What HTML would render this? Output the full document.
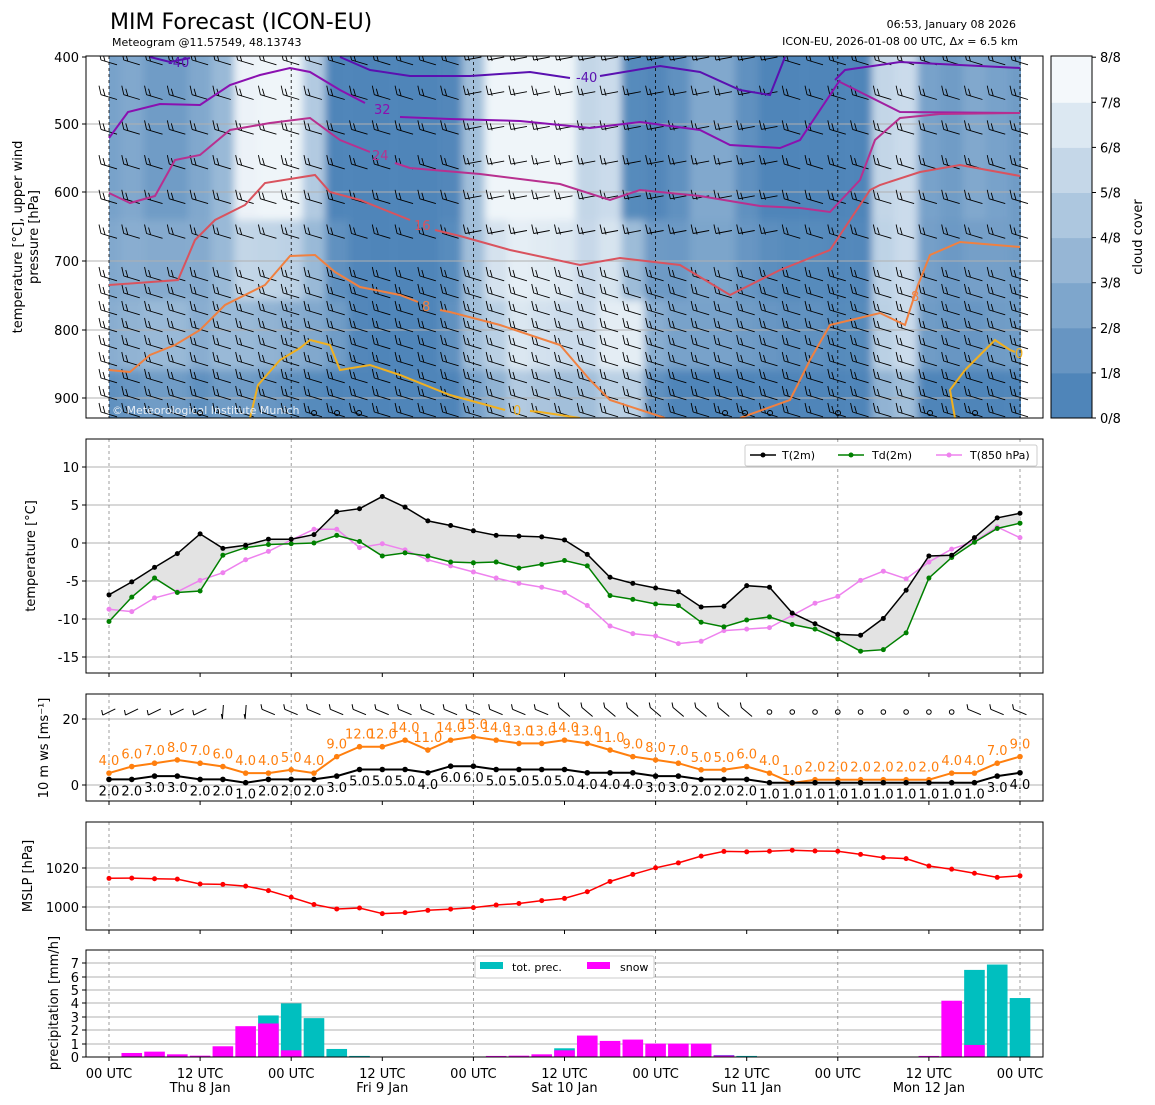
<!DOCTYPE html>
<html><head><meta charset="utf-8">
<style>
body{margin:0;background:#fff;width:1155px;height:1105px;overflow:hidden}
svg{display:block;font-family:"DejaVu Sans","Liberation Sans",sans-serif}
</style></head><body>
<svg id="s" width="1155" height="1105" viewBox="0 0 1155 1105" xmlns="http://www.w3.org/2000/svg">
<defs>
<clipPath id="c1"><rect x="86" y="56" width="957" height="362"/></clipPath>
<filter id="bl" x="-5%" y="-5%" width="110%" height="110%"><feGaussianBlur stdDeviation="4"/></filter>
</defs>
<text x="110" y="29" font-size="22">MIM Forecast (ICON-EU)</text>
<text x="112" y="46" font-size="11">Meteogram @11.57549, 48.13743</text>
<text x="1016" y="28" font-size="11" text-anchor="end">06:53, January 08 2026</text>
<text x="1018" y="45" font-size="11" text-anchor="end">ICON-EU, 2026-01-08 00 UTC, Δ<tspan font-style="italic">x</tspan> = 6.5 km</text>
<g id="g"></g>
</svg>
<script>
const NS="http://www.w3.org/2000/svg";const G=document.getElementById('g');
let H='';
const X=i=>109+i*22.775;
const col=(c)=>{c=Math.max(0,Math.min(1,c));const a=[79,133,185],b=[244,248,251];return `rgb(${a.map((v,k)=>Math.round(v+(b[k]-v)*c)).join(',')})`;};
const up=[.25,.3,.2,.2,.3,.45,.95,.97,.97,.6,0,0,0,0,0,0.02,.5,.97,.97,.97,.97,.7,.75,.05,.02,.1,.3,.3,.1,0,0,0,0,0,.7,.75,.25,.2,.3,.25,.2];
const lo=[.35,.4,.45,.45,.35,.45,.45,.4,.35,.3,.2,.02,0,0,0,.1,.5,.65,.85,.8,.75,.75,.9,.9,.35,.25,.25,.25,.2,.15,.1,.1,.05,.05,.65,.75,.2,.15,.15,.2,.2];
const lo2=lo.map(v=>Math.max(0,v-0.25));
let cl='<g clip-path="url(#c1)"><rect x="86" y="56" width="957" height="362" fill="#fff"/><g filter="url(#bl)">';
for(let i=0;i<41;i++){const x=X(i)-11.4;
 cl+=`<rect x="${x}" y="40" width="23" height="180" fill="${col(up[i])}"/>`;
 cl+=`<rect x="${x}" y="220" width="23" height="80" fill="${col((up[i]+lo[i])/2)}"/>`;
 cl+=`<rect x="${x}" y="300" width="23" height="70" fill="${col(lo[i])}"/>`;
 cl+=`<rect x="${x}" y="370" width="23" height="60" fill="${col(lo2[i])}"/>`;}
cl+='</g><rect x="86" y="56" width="23" height="362" fill="#fff"/><rect x="1021" y="56" width="22" height="362" fill="#fff"/>';
[124,192,261,330,398].forEach(y=>cl+=`<line x1="86" x2="1043" y1="${y}" y2="${y}" stroke="#b0b0b0" stroke-width="1"/>`);
[0,8,16,24,32,40].forEach(i=>cl+=`<line x1="${X(i)}" x2="${X(i)}" y1="56" y2="418" stroke="#000" stroke-width="0.8" stroke-dasharray="3,3"/>`);
let rows=[];for(let y=60;y<260;y+=34.7)rows.push(y);for(let y=276;y<418;y+=17)rows.push(y);
for(let i=0;i<41;i++){for(const y of rows){const x=X(i)-8;
 const ang=(i>=16&&i<=29&&y<260)?-1:0.3;
 const dx=16,dy=6*ang+3;
 cl+=`<path d="M${x} ${y}L${x+dx} ${y+dy}M${x} ${y}L${x-2} ${y-9}M${x+4} ${y+1}L${x+2} ${y-6}" stroke="#000" stroke-width="0.9" fill="none"/>`;}}
const P=(pts,c)=>cl+=`<polyline points="${pts}" fill="none" stroke="${c}" stroke-width="2"/>`;
P("150,57 170,62 190,58",'#5a10b0');
P("340,57 370,70 410,76 470,76 530,72 570,78",'#5a10b0');P("600,76 660,66 700,72 740,90 770,95 785,57",'#5a10b0');
P("835,80 845,70 900,62 1020,68",'#7010b0');
P("109,138 128,112 160,104 200,105 230,85 260,75 290,68 310,72 340,90 365,103",'#8a10b0');
P("400,117 450,119 520,121 590,128 640,122 700,130 730,145 780,148 800,140 840,80",'#8a10b0');
P("840,82 900,112 1020,113",'#a020a0');
P("109,193 130,203 155,196 175,160 200,155 230,130 270,123 310,118 340,140 370,152",'#b8308f');
P("395,163 410,168 480,174 560,184 610,200 640,190 700,196 760,206 800,208 830,212 860,180 875,140 900,118 940,114 1020,113",'#b8308f');
P("109,285 178,280 195,240 215,220 245,205 265,183 315,175 330,192 360,200 410,220",'#d9535e');
P("435,230 460,236 510,250 580,265 620,258 680,265 730,295 780,270 830,250 870,190 880,185 920,172 960,165 1020,176",'#d9535e');
P("109,370 130,372 150,355 175,345 200,330 225,305 265,285 290,256 315,255 335,272 360,287 400,295 418,302",'#f08040');
P("440,310 450,312 500,325 560,345 590,380 610,400 665,418",'#f08040');
P("740,418 790,400 810,360 830,325 880,313 905,325 918,285 930,255 960,242 1020,247",'#f08040');
P("250,418 258,385 280,360 300,348 310,340 330,345 340,370 370,365 400,375 450,395 505,410",'#f0b020');
P("530,411 540,412 580,418",'#f0b020');P("955,418 950,390 965,370 980,355 995,340 1010,350 1015,352",'#f0b020');
cl+=`<text x="168" y="67" font-size="13" fill="#5a10b0">-40</text><text x="576" y="82" font-size="13" fill="#5a10b0">-40</text>
<text x="374" y="114" font-size="13" fill="#8a10b0">32</text><text x="372" y="160" font-size="13" fill="#b8308f">24</text>
<text x="414" y="230" font-size="13" fill="#d9535e">16</text><text x="422" y="311" font-size="13" fill="#f08040">8</text>
<text x="911" y="301" font-size="13" fill="#f08040">8</text><text x="513" y="415" font-size="13" fill="#f0b020">0</text><text x="1015" y="358" font-size="13" fill="#f0b020">0</text>
<text x="112" y="414" font-size="11" fill="#e8eef5">© Meteorological Institute Munich</text>`;
[200,314,337,359,725,745,770,838,930,975].forEach(x=>cl+=`<circle cx="${x}" cy="413" r="2.5" fill="none" stroke="#000"/>`);
cl+='</g><rect x="86" y="56" width="957" height="362" fill="none" stroke="#000"/>';
[[400,57],[500,124],[600,192],[700,261],[800,330],[900,398]].forEach(([v,y])=>cl+=`<line x1="82" x2="86" y1="${y}" y2="${y}" stroke="#000"/><text x="79" y="${y+5}" font-size="13" text-anchor="end">${v}</text>`);
H+=cl;
for(let k=0;k<8;k++){const y=418-(k+1)*45.1;H+=`<rect x="1051" y="${y}" width="41" height="45.6" fill="${col(k/7)}"/>`;}
H+='<rect x="1051" y="56" width="41" height="362" fill="none" stroke="#000"/>';
for(let k=0;k<=8;k++){const y=418-k*45.1;H+=`<line x1="1092" x2="1096" y1="${y}" y2="${y}" stroke="#000"/><text x="1100" y="${y+5}" font-size="13">${k}/8</text>`;}
H+='<text transform="translate(1142,237) rotate(-90)" font-size="13" text-anchor="middle">cloud cover</text>';
H+='<text transform="translate(22,237) rotate(-90)" font-size="13" text-anchor="middle">temperature [°C], upper wind</text><text transform="translate(38,237) rotate(-90)" font-size="13" text-anchor="middle">pressure [hPa]</text>';
function frame(y0,y1,ticks){let s='';
 ticks.forEach(([v,y])=>{s+=`<line x1="86" x2="1043" y1="${y}" y2="${y}" stroke="#b0b0b0"/><line x1="82" x2="86" y1="${y}" y2="${y}" stroke="#000"/><text x="79" y="${y+5}" font-size="13" text-anchor="end">${v}</text>`;});
 [0,8,16,24,32,40].forEach(i=>s+=`<line x1="${X(i)}" x2="${X(i)}" y1="${y0}" y2="${y1}" stroke="#888" stroke-width="0.8" stroke-dasharray="3,3"/>`);
 for(let i=0;i<=40;i+=4)s+=`<line x1="${X(i)}" x2="${X(i)}" y1="${y1}" y2="${y1+4}" stroke="#000"/>`;
 return s;}
function fr2(y0,y1){return `<rect x="86" y="${y0}" width="957" height="${y1-y0}" fill="none" stroke="#000"/>`;}
const line=(vals,f,c,w,r)=>{const p=vals.map((v,i)=>`${X(i).toFixed(1)},${f(v).toFixed(1)}`).join(' ');let s=`<polyline points="${p}" fill="none" stroke="${c}" stroke-width="${w}"/>`;vals.forEach((v,i)=>s+=`<circle cx="${X(i)}" cy="${f(v)}" r="${r}" fill="${c}"/>`);return s;};
const T=[-6.8,-5.1,-3.2,-1.4,1.2,-0.7,-0.3,0.5,0.5,1.1,4.1,4.5,6.1,4.7,2.9,2.3,1.6,1.0,0.9,0.8,0.4,-1.5,-4.5,-5.3,-5.9,-6.4,-8.4,-8.3,-5.6,-5.8,-9.2,-10.6,-12,-12.1,-9.9,-6.2,-1.7,-1.6,0.7,3.3,3.9];
const Td=[-10.3,-7.1,-4.6,-6.5,-6.3,-1.6,-0.6,-0.2,-0.1,0.0,1.0,0.2,-1.7,-1.3,-1.7,-2.5,-2.6,-2.5,-3.3,-2.8,-2.3,-3.0,-6.9,-7.4,-8.0,-8.2,-10.4,-11.0,-10.1,-9.7,-10.7,-11.3,-12.6,-14.2,-14.0,-11.8,-4.6,-1.9,0.1,1.9,2.6];
const T8=[-8.7,-9.0,-7.2,-6.4,-4.9,-3.9,-2.2,-1.1,0.4,1.8,1.8,-0.6,-0.1,-0.9,-2.2,-3.0,-3.8,-4.6,-5.3,-5.8,-6.5,-8.2,-10.9,-11.9,-12.2,-13.2,-12.9,-11.5,-11.3,-11.1,-9.5,-7.9,-7.0,-4.9,-3.7,-4.7,-2.5,-0.8,0.2,2.1,0.7];
const ft=v=>543-7.62*v;
H+=frame(439,673,[[10,467],[5,505],[0,543],[-5,581],[-10,619],[-15,657]]);
H+=`<polygon points="${T.map((v,i)=>X(i)+','+ft(v)).join(' ')} ${Td.map((v,i)=>X(i)+','+ft(v)).reverse().join(' ')}" fill="#e3e3e3"/>`;
H+=line(T8,ft,'#ee82ee',1.5,2.5)+line(Td,ft,'#008000',1.5,2.5)+line(T,ft,'#000',1.5,2.5)+fr2(439,673);
H+=`<rect x="745" y="445" width="292" height="21" fill="#fff" stroke="#ccc" rx="2"/>
<line x1="750" x2="776" y1="455" y2="455" stroke="#000" stroke-width="1.5"/><circle cx="763" cy="455" r="2.5"/><text x="782" y="459" font-size="11">T(2m)</text>
<line x1="838" x2="864" y1="455" y2="455" stroke="#008000" stroke-width="1.5"/><circle cx="851" cy="455" r="2.5" fill="#008000"/><text x="872" y="459" font-size="11">Td(2m)</text>
<line x1="936" x2="962" y1="455" y2="455" stroke="#ee82ee" stroke-width="1.5"/><circle cx="949" cy="455" r="2.5" fill="#ee82ee"/><text x="970" y="459" font-size="11">T(850 hPa)</text>`;
H+='<text transform="translate(35,556) rotate(-90)" font-size="13" text-anchor="middle">temperature [°C]</text>';
const fw=v=>785-3.3*v;
const gl=[4,6,7,8,7,6,4,4,5,4,9,12,12,14,11,14,15,14,13,13,14,13,11,9,8,7,5,5,6,4,1,2,2,2,2,2,2,2,4,4,7,9];gl.splice(36,1);
const wl=[2,2,3,3,2,2,1,2,2,2,3,5,5,5,4,6,6,5,5,5,5,4,4,4,3,3,2,2,2,1,1,1,1,1,1,1,1,1,1,3,4];
const gv=gl.map(v=>v-0.4),wv=wl.map(v=>v-0.3);
H+=frame(694,801,[[20,719],[0,785]]);
H+=line(gv,fw,'#ff7f0e',2,2.8)+line(wv,fw,'#000',2,2.8);
gl.forEach((v,i)=>H+=`<text x="${X(i)}" y="${fw(gv[i])-8}" font-size="13" fill="#ff7f0e" text-anchor="middle">${v}.0</text>`);
wl.forEach((v,i)=>H+=`<text x="${X(i)}" y="${fw(wv[i])+16}" font-size="13" text-anchor="middle">${v}.0</text>`);
for(let i=0;i<41;i++){const x=X(i),y=712;if(i>=29&&i<=37){H+=`<circle cx="${x}" cy="${y}" r="2.3" fill="none" stroke="#000"/>`;}else{
 const a=i<5?-0.45:(i<7?-1.5:(i<20?0.4:(i<29?0.7:0.4)));const dx=Math.cos(a)*14,dy=Math.sin(a)*14;
 H+=`<path d="M${x-dx/2} ${y-dy/2}L${x+dx/2} ${y+dy/2}M${x-dx/2} ${y-dy/2}l-1 -5" stroke="#000" fill="none"/>`;}}
H+=fr2(694,801);
H+='<text transform="translate(48,748) rotate(-90)" font-size="13" text-anchor="middle">10 m ws [ms⁻¹]</text>';
const M=[1014.7,1014.8,1014.5,1014.3,1011.8,1011.6,1010.7,1008.4,1005.0,1001.3,999.0,999.5,996.6,997.1,998.3,998.9,999.7,1001.0,1001.8,1003.3,1004.4,1007.8,1013.1,1016.7,1020.1,1022.6,1026.1,1028.5,1028.3,1028.6,1029.1,1028.7,1028.6,1027.0,1025.3,1024.8,1021.0,1019.4,1017.3,1015.2,1016.0];
const fm=v=>868-1.95*(v-1020);
H+=frame(822,930,[[1020,868],[1000,907]]);
H+='<line x1="86" x2="1043" y1="848" y2="848" stroke="#b0b0b0"/><line x1="86" x2="1043" y1="887" y2="887" stroke="#b0b0b0"/>';
H+=line(M,fm,'#f00',1.5,2.5)+fr2(822,930);
H+='<text transform="translate(32,876) rotate(-90)" font-size="13" text-anchor="middle">MSLP [hPa]</text>';
const fp=v=>1057-13.4*v;
H+=frame(950,1057,[[0,1057],[1,1044],[2,1030],[3,1017],[4,1003],[5,990],[6,977],[7,963]]);
const tot={7:3.1,8:4.0,9:2.9,10:0.6,11:0.08,20:0.65,27:0.15,28:0.08,38:6.5,39:6.9,40:4.4};
const sn={1:0.3,2:0.4,3:0.2,4:0.1,5:0.8,6:2.3,7:2.5,8:0.5,17:0.08,18:0.1,19:0.2,20:0.5,21:1.6,22:1.2,23:1.3,24:1.0,25:1.0,26:1.0,27:0.12,36:0.08,37:4.2,38:0.9};
for(const k in tot)H+=`<rect x="${X(+k)-10.3}" y="${fp(tot[k])}" width="20.6" height="${13.4*tot[k]}" fill="#00bfbf"/>`;
for(const k in sn)H+=`<rect x="${X(+k)-10.3}" y="${fp(sn[k])}" width="20.6" height="${13.4*sn[k]}" fill="#ff00ff"/>`;
H+=fr2(950,1057);
H+=`<rect x="475" y="956" width="179" height="22" fill="#fff" stroke="#ccc" rx="2"/><rect x="480" y="962" width="23" height="7" fill="#00bfbf"/><text x="512" y="971" font-size="11">tot. prec.</text><rect x="587" y="962" width="23" height="7" fill="#ff00ff"/><text x="620" y="971" font-size="11">snow</text>`;
H+='<text transform="translate(58,1003) rotate(-90)" font-size="13" text-anchor="middle">precipitation [mm/h]</text>';
const days=['Thu 8 Jan','Fri 9 Jan','Sat 10 Jan','Sun 11 Jan','Mon 12 Jan'];
for(let i=0;i<=40;i+=4){H+=`<text x="${X(i)}" y="1078" font-size="13" text-anchor="middle">${i%8==0?'00':'12'} UTC</text>`;if(i%8==4)H+=`<text x="${X(i)}" y="1092" font-size="13" text-anchor="middle">${days[(i-4)/8]}</text>`;}
G.innerHTML=H;
</script>
</body></html>
